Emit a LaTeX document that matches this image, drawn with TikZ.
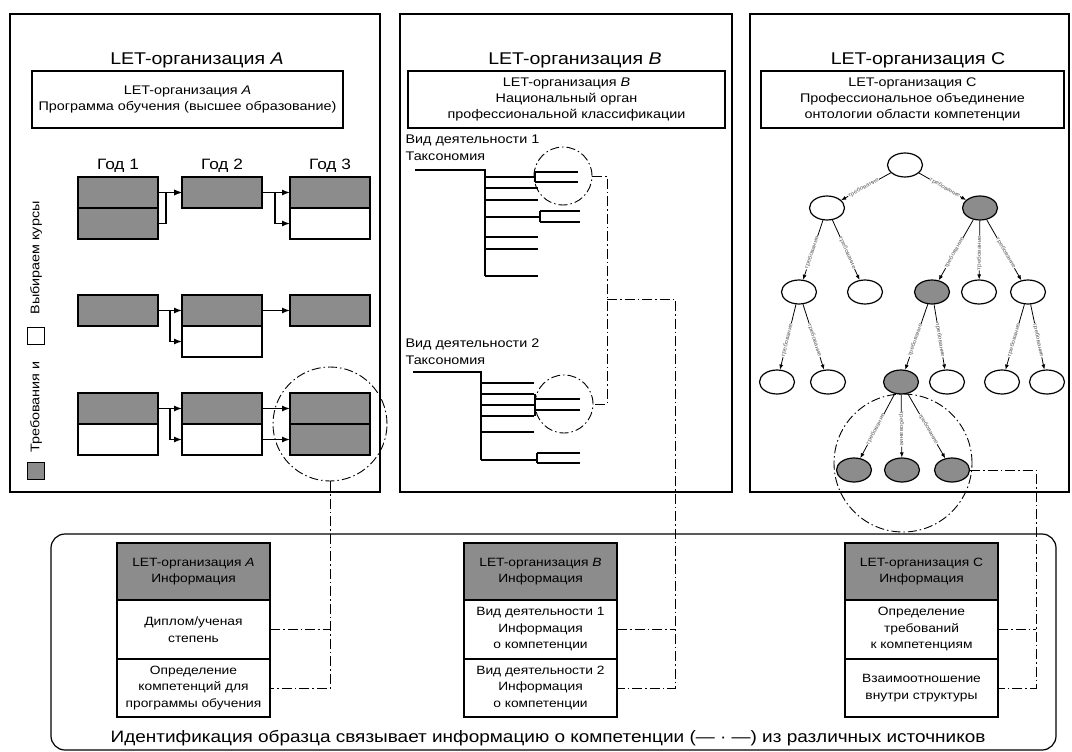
\documentclass[tikz,border=0pt]{standalone}
\usepackage{fontspec}
\setmainfont{Liberation Sans}[FakeStretch=1.15]
\usetikzlibrary{positioning,shapes.geometric,arrows.meta}
\begin{document}
\begin{tikzpicture}[x=1pt,y=-1pt,line width=1.2pt,>={Latex[length=8pt,width=6pt]},
	ttl/.style={font=\fontsize{17}{20}\selectfont},
	sub/.style={draw,align=center,inner sep=0pt,font=\fontsize{12.5}{16}\selectfont},
	yr/.style={font=\fontsize{15}{18}\selectfont},
	txt/.style={align=left,inner sep=0pt,font=\fontsize{12.5}{17}\selectfont},
	cell/.style={draw,line width=1.3pt,minimum width=80pt,minimum height=31pt,inner sep=0pt,outer sep=0pt},
	req/.style={cell,fill=black!45},
	opt/.style={cell,fill=white},
	dd/.style={line width=0.9pt,dash pattern=on 10pt off 3pt on 1.5pt off 3pt},
	ring/.style={circle,draw,line width=0.9pt,dash pattern=on 9pt off 3pt on 1.5pt off 3pt,inner sep=0pt},
	ell/.style={ellipse,draw,line width=1.2pt,minimum width=35pt,minimum height=24pt,inner sep=0pt},
	ellg/.style={ell,fill=black!45},
	edg/.style={-{Latex[length=5pt,width=4pt]},line width=0.8pt},
	lbl/.style={sloped,pos=0.55,fill=white,inner sep=0.2pt,text=black!65,font=\fontsize{5.5}{5.5}\selectfont},
	box/.style={draw,line width=1.3pt,minimum width=153pt,align=center,inner sep=0pt,outer sep=0pt,font=\fontsize{12}{16.5}\selectfont},
	]
	\useasboundingbox (0,0) rectangle (1072,752);
	%panels
	\draw[line width=1.6pt] (10,14) rectangle (380,492); \draw[line width=1.6pt] (400,14) rectangle (732,492); \draw[line width=1.6pt] (750,14) rectangle (1069,492);
	\node[ttl] (tA) at (197,60) {LET-организация \textit{A}}; \node[ttl] (tB) at (575,60) {LET-организация \textit{B}}; \node[ttl] (tC) at (918,60) {LET-организация C};
	\node[sub,minimum width=311pt,minimum height=57pt] (sA) at (187.5,99.5) {LET-организация \textit{A}\\Программа обучения (высшее образование)};
	\node[sub,minimum width=317pt,minimum height=57pt] (sB) at (566.5,99.5) {LET-организация \textit{B}\\Национальный орган\\профессиональной классификации};
	\node[sub,minimum width=303pt,minimum height=57pt] (sC) at (912.5,99.5) {LET-организация C\\Профессиональное объединение\\онтологии области компетенции};
	
	%A: years
	\node[yr] (g1) at (118,166) {Год 1}; \node[yr] (g2) at (222,166) {Год 2}; \node[yr] (g3) at (330,166) {Год 3};
	\node[req] (r1y1) at (118,192.5) {}; \node[req,below=0pt of r1y1] (r1y1b) {}; \node[req] (r1y2) at (222,192.5) {}; \node[req] (r1y3) at (330,192.5) {}; \node[opt,below=0pt of r1y3] (r1y3b) {};
	\node[req] (r2y1) at (118,310.5) {}; \node[req] (r2y2) at (222,310.5) {}; \node[opt,below=0pt of r2y2] (r2y2b) {}; \node[req] (r2y3) at (330,310.5) {};
	\node[req] (r3y1) at (118,408.5) {}; \node[opt,below=0pt of r3y1] (r3y1b) {}; \node[req] (r3y2) at (222,408.5) {}; \node[opt,below=0pt of r3y2] (r3y2b) {}; \node[req] (r3y3) at (330,408.5) {}; \node[req,below=0pt of r3y3] (r3y3b) {};
	
	\draw[->] (r1y1.east) -- (r1y2.west); \draw[->] (r1y1b.east) -- ++(8,0) |- (r1y2.west);
	\draw[->] (r1y2.east) -- (r1y3.west); \draw[->] (r1y2.east) -- ++(13,0) |- (r1y3b.west);
	\draw[->] (r2y1.east) -- (r2y2.west); \draw[->] (r2y1.east) -- ++(12,0) |- (r2y2b.west); \draw[->] (r2y2.east) -- (r2y3.west);
	\draw[->] (r3y1.east) -- (r3y2.west); \draw[->] (r3y1.east) -- ++(12,0) |- (r3y2b.west);
	\draw[->] (r3y2.east) -- (r3y3.west); \draw[->] (r3y2b.east) -- (r3y3b.west);
	
	\node[draw,fill=black!45,minimum size=17pt] (kq) at (36,471) {}; \node[txt,rotate=90] (kt) at (36,407) {Требования и};
	\node[draw,fill=white,minimum size=17pt] (ko) at (36,336) {}; \node[txt,rotate=90] (kt2) at (36,258) {Выбираем курсы};
	\node[ring,minimum size=114pt] (cA) at (330,424) {};
	
	%B: taxonomies
	\node[txt,anchor=west] (vd1) at (405,148) {Вид деятельности 1\\Таксономия}; \node[txt,anchor=west] (vd2) at (405,352) {Вид деятельности 2\\Таксономия};
	\begin{scope}[line width=1.3pt]
		\draw (415,170) -- (485,170) -- (485,276); \foreach \y in {188,200,237,249,276} \draw (485,\y) -- (538,\y);
		\draw (485,177) -- (535,177) (535,172) -- (535,182) (535,172) -- (578,172) (535,182) -- (578,182);
		\draw (485,217) -- (540,217) (540,211) -- (540,222) (540,211) -- (580,211) (540,222) -- (580,222);
		\draw (413,372) -- (481,372) -- (481,460); \foreach \y in {383,394,405,416,432} \draw (481,\y) -- (534,\y);
		\draw (535,394) -- (535,416) (535,399) -- (580,399) (535,410) -- (580,410);
		\draw (481,460) -- (537,460) (537,453) -- (537,463) (537,453) -- (580,453) (537,463) -- (580,463);
	\end{scope}
	\node[ring,minimum size=58pt] (cB1) at (563,176) {}; \node[ring,minimum size=58pt] (cB2) at (564,404) {};
	
	%C: tree
	\node[ell] (n0) at (905,165) {}; \node[ell] (n11) at (827,208) {}; \node[ellg] (n12) at (980,208) {};
	\node[ell] (n21) at (799,292) {}; \node[ell] (n22) at (865,292) {}; \node[ellg] (n23) at (932,292) {}; \node[ell] (n24) at (979,292) {}; \node[ell] (n25) at (1028,292) {};
	\node[ell] (n31) at (777,382) {}; \node[ell] (n32) at (828,382) {}; \node[ellg] (n33) at (901,382) {}; \node[ell] (n34) at (947,382) {}; \node[ell] (n35) at (1002,382) {}; \node[ell] (n36) at (1047,382) {};
	\node[ellg] (n41) at (854,470) {}; \node[ellg] (n42) at (902,470) {}; \node[ellg] (n43) at (952,470) {};
	\foreach \a/\b in {n0/n11,n0/n12,n11/n21,n11/n22,n12/n23,n12/n24,n12/n25,n21/n31,n21/n32,n23/n33,n23/n34,n25/n35,n25/n36,n33/n41,n33/n42,n33/n43}
		\draw[edg] (\a) -- node[lbl]{требование} (\b);
	\node[ring,minimum size=138pt] (cC) at (903,463) {};
	
	%bottom
	\draw[rounded corners=14pt] (51,534) rectangle (1056,750);
	\node[font=\fontsize{16.5}{20}\selectfont] (cap) at (548,738) {Идентификация образца связывает информацию о компетенции (— · —) из различных источников};
	\node[box,fill=black!45,minimum height=57pt] (bA1) at (193.5,571.5) {LET-организация \textit{A}\\Информация};
	\node[box,minimum height=59pt,below=0pt of bA1] (bA2) {Диплом/ученая\\степень}; \node[box,minimum height=58pt,below=0pt of bA2] (bA3) {Определение\\компетенций для\\программы обучения};
	\node[box,fill=black!45,minimum height=57pt] (bB1) at (540.5,571.5) {LET-организация \textit{B}\\Информация};
	\node[box,minimum height=59pt,below=0pt of bB1] (bB2) {Вид деятельности 1\\Информация\\о компетенции}; \node[box,minimum height=58pt,below=0pt of bB2] (bB3) {Вид деятельности 2\\Информация\\о компетенции};
	\node[box,fill=black!45,minimum height=57pt] (bC1) at (921.5,571.5) {LET-организация C\\Информация};
	\node[box,minimum height=59pt,below=0pt of bC1] (bC2) {Определение\\требований\\к компетенциям}; \node[box,minimum height=58pt,below=0pt of bC2] (bC3) {Взаимоотношение\\внутри структуры};
	
	%links
	\draw[dd] (cA.south) |- (bA3.east); \draw[dd] (bA2.east) -- (bA2.east -| cA.south);
	\coordinate (jB) at (607,299); \coordinate (kB) at (675,299);
	\draw[dd] (cB1.east) -| (jB) |- (cB2.east); \draw[dd] (jB) -- (kB) |- (bB3.east); \draw[dd] (bB2.east) -- (bB2.east -| kB);
	\coordinate (kC) at (1036,470);
	\draw[dd] (n43.east) -- (kC) |- (bC3.east); \draw[dd] (bC2.east) -- (bC2.east -| kC);
\end{tikzpicture}
\end{document}
